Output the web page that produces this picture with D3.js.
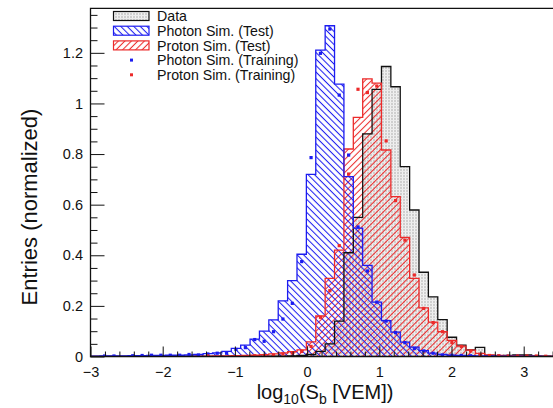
<!DOCTYPE html>
<html>
<head>
<meta charset="utf-8">
<script src="https://cdn.jsdelivr.net/npm/d3@7"></script>
<style>
  body { margin: 0; background: #fff; }
  svg { display: block; font-family: "Liberation Sans", Arial, Helvetica, sans-serif; }
</style>
</head>
<body>
<svg id="chart" width="553" height="408"></svg>
<script>
// Histogram binning: 50 bins of width 0.13 covering log10(Sb) in [-3, 3.5]
const binLow = -3;
const binWidth = 0.13;
const nBins = 50;

// Measured data (normalized entries per bin)
const dataEntries = [
  0, 0, 0, 0, 0, 0, 0, 0, 0, 0,
  0, 0, 0, 0, 0, 0, 0, 0, 0, 0.001,
  0.001, 0.002, 0.004, 0.008, 0.02, 0.05, 0.14, 0.41, 0.55, 0.88,
  1.056, 1.146, 1.066, 0.75, 0.579, 0.333, 0.236, 0.146, 0.076, 0.045,
  0.026, 0.036, 0.004, 0.003, 0.004, 0.006, 0.006, 0.001, 0.001, 0
];

// Photon simulation, test sample
const photonTest = [
  0.001, 0.002, 0.002, 0.002, 0.003, 0.003, 0.004, 0.004, 0.005, 0.005,
  0.006, 0.008, 0.011, 0.014, 0.02, 0.032, 0.045, 0.069, 0.1, 0.145,
  0.22, 0.3, 0.404, 0.72, 1.211, 1.307, 1.076, 0.711, 0.507, 0.36,
  0.215, 0.142, 0.096, 0.057, 0.037, 0.023, 0.013, 0.008, 0.005, 0.004,
  0.003, 0.002, 0.002, 0.001, 0.001, 0.001, 0.001, 0.001, 0.0005, 0.0005
];

// Proton simulation, test sample
const protonTest = [
  0, 0, 0, 0, 0, 0, 0, 0, 0, 0,
  0, 0.001, 0.001, 0.002, 0.002, 0.003, 0.004, 0.005, 0.007, 0.01,
  0.014, 0.019, 0.026, 0.058, 0.16, 0.309, 0.42, 0.82, 0.945, 1.097,
  1.08, 0.816, 0.632, 0.471, 0.309, 0.192, 0.136, 0.098, 0.064, 0.041,
  0.025, 0.012, 0.006, 0.004, 0.003, 0.003, 0.002, 0.002, 0.001, 0.001
];

// Photon simulation, training sample (null = empty bin)
const photonTrain = [
  null, 0.002, 0.002, null, 0.003, 0.004, 0.005, 0.005, 0.005, 0.005,
  0.008, 0.006, 0.01, 0.013, 0.013, 0.028, 0.035, 0.067, 0.06, 0.098,
  0.148, 0.21, 0.375, 0.786, 1.198, 1.294, 1.033, 0.796, 0.512, 0.338,
  0.215, 0.14, 0.095, 0.055, 0.032, 0.022, 0.013, 0.006, 0.005, 0.004,
  0.003, 0.003, 0.002, 0.002, 0.001, 0.001, null, null, null, null
];

// Proton simulation, training sample (null = empty bin)
const protonTrain = [
  null, null, null, null, null, null, null, null, null, null,
  null, null, 0.002, null, null, null, null, 0.003, 0.004, 0.006,
  0.01, 0.014, 0.02, 0.04, 0.155, 0.26, 0.438, 0.721, 1.056, 1.043,
  1.069, 0.852, 0.616, 0.46, 0.322, 0.19, 0.134, 0.098, 0.055, 0.04,
  0.022, 0.008, 0.004, 0.003, 0.002, 0.002, 0.002, 0.002, 0.001, 0.001
];

const xTickValues = [-3, -2, -1, 0, 1, 2, 3];
const yTickValues = [0, 0.2, 0.4, 0.6, 0.8, 1, 1.2];
const yTickLabels = ["0", "0.2", "0.4", "0.6", "0.8", "1", "1.2"];
const legendLabels = [
  "Data",
  "Photon Sim. (Test)",
  "Proton Sim. (Test)",
  "Photon Sim. (Training)",
  "Proton Sim. (Training)"
];

const colBlue = "#1c1cf0";
const colRed = "#ec2a2a";

const svg = d3.select("#chart");
const plotLeft = 90.5, plotRight = 553, plotTop = 8.3, plotBottom = 356.5;

const x = d3.scaleLinear().domain([-3, 3.5]).range([90.5, 559.8]);
const y = d3.scaleLinear().domain([0, 1.376]).range([plotBottom, plotTop]);

// ---- fill patterns ----
const defs = svg.append("defs");

function hatch(id, color, angle) {
  const p = defs.append("pattern")
    .attr("id", id)
    .attr("patternUnits", "userSpaceOnUse")
    .attr("width", 4.6).attr("height", 4.6)
    .attr("patternTransform", `rotate(${angle})`);
  p.append("line")
    .attr("x1", 2.3).attr("y1", 0).attr("x2", 2.3).attr("y2", 4.6)
    .attr("stroke", color).attr("stroke-width", 1.05);
}
hatch("hatchPhoton", colBlue, -45);
hatch("hatchProton", colRed, 45);

const grid = defs.append("pattern")
  .attr("id", "gridData")
  .attr("patternUnits", "userSpaceOnUse")
  .attr("width", 3).attr("height", 3);
grid.append("rect").attr("width", 3).attr("height", 3).attr("fill", "#cfcfcf");
grid.append("rect").attr("width", 1).attr("height", 3).attr("fill", "#f2f2f2");
grid.append("rect").attr("width", 3).attr("height", 1).attr("fill", "#ebebeb");

defs.append("clipPath").attr("id", "plotClip")
  .append("rect").attr("x", plotLeft).attr("y", plotTop)
  .attr("width", plotRight - plotLeft).attr("height", plotBottom - plotTop);

// ---- histogram helpers ----
const edge = k => binLow + k * binWidth;

function stepPoints(vals) {
  const pts = vals.map((v, k) => [edge(k), v]);
  pts.push([edge(nBins), vals[nBins - 1]]);
  return pts;
}

const area = d3.area()
  .curve(d3.curveStepAfter)
  .x(d => x(d[0])).y0(y(0)).y1(d => y(d[1]));

const stepLine = d3.line()
  .curve(d3.curveStepAfter)
  .x(d => x(d[0])).y(d => y(d[1]));

function outline(vals) {
  return stepLine([[edge(0), 0], ...stepPoints(vals), [edge(nBins), 0]]);
}

const plot = svg.append("g").attr("clip-path", "url(#plotClip)");

const series = [
  { vals: dataEntries, fill: "url(#gridData)", stroke: "#111" },
  { vals: protonTest, fill: "url(#hatchProton)", stroke: colRed },
  { vals: photonTest, fill: "url(#hatchPhoton)", stroke: colBlue }
];

series.forEach(s => {
  plot.append("path").attr("d", area(stepPoints(s.vals))).attr("fill", s.fill);
});
series.forEach(s => {
  plot.append("path").attr("d", outline(s.vals))
    .attr("fill", "none").attr("stroke", s.stroke).attr("stroke-width", 1.3);
});

// training samples as small squares at bin centres
function markers(vals, color) {
  const pts = vals.map((v, k) => ({ c: edge(k) + binWidth / 2, v })).filter(d => d.v !== null);
  plot.selectAll(null).data(pts).enter().append("rect")
    .attr("x", d => x(d.c) - 1.6).attr("y", d => y(d.v) - 1.6)
    .attr("width", 3.2).attr("height", 3.2)
    .attr("fill", color);
}
markers(photonTrain, colBlue);
markers(protonTrain, colRed);

// ---- axes ----
const xMinor = d3.range(-3, 3.5, 0.2).filter(v => Math.abs(v - Math.round(v)) > 1e-6);
const yMinor = d3.range(0, 1.376, 0.05).filter(v => Math.abs(v * 5 - Math.round(v * 5)) > 1e-6);

const axisStyle = g => {
  g.select(".domain").remove();
  g.selectAll("line").attr("stroke", "#111").attr("stroke-width", 1);
  g.selectAll("text").attr("fill", "#111").attr("font-size", 14.5)
    .attr("font-family", '"Liberation Sans", Arial, sans-serif');
};

svg.append("g").attr("transform", `translate(0,${plotBottom})`)
  .call(d3.axisBottom(x).tickValues(xMinor).tickSize(-5).tickFormat(""))
  .call(axisStyle);
svg.append("g").attr("transform", `translate(0,${plotBottom})`)
  .call(d3.axisBottom(x).tickValues(xTickValues).tickSize(-10).tickPadding(10)
    .tickFormat(d3.format("d")))
  .call(axisStyle);

svg.append("g").attr("transform", `translate(${plotLeft},0)`)
  .call(d3.axisLeft(y).tickValues(yMinor).tickSize(-7).tickFormat(""))
  .call(axisStyle);
svg.append("g").attr("transform", `translate(${plotLeft},0)`)
  .call(d3.axisLeft(y).tickValues(yTickValues).tickSize(-14).tickPadding(7.5)
    .tickFormat((d, i) => yTickLabels[i]))
  .call(axisStyle);

// frame: left, bottom, top
svg.append("path")
  .attr("d", `M${plotRight},${plotTop}H${plotLeft}V${plotBottom}H${plotRight}`)
  .attr("fill", "none").attr("stroke", "#111").attr("stroke-width", 1.3);

// ---- axis titles ----
const xt = svg.append("text")
  .attr("x", 325).attr("y", 399)
  .attr("text-anchor", "middle")
  .attr("font-size", 20).attr("fill", "#111");
xt.append("tspan").text("log");
xt.append("tspan").attr("font-size", 14).attr("dy", 5).text("10");
xt.append("tspan").attr("dy", -5).text("(S");
xt.append("tspan").attr("font-size", 14).attr("dy", 5).text("b");
xt.append("tspan").attr("dy", -5).text(" [VEM])");

svg.append("text")
  .attr("transform", "translate(37,207) rotate(-90)")
  .attr("text-anchor", "middle")
  .attr("font-size", 22).attr("fill", "#111")
  .text("Entries (normalized)");

// ---- legend ----
const leg = svg.append("g");
const rowY = i => 16 + 14.7 * i;
const boxStyles = [
  { fill: "url(#gridData)", stroke: "#111" },
  { fill: "url(#hatchPhoton)", stroke: colBlue },
  { fill: "url(#hatchProton)", stroke: colRed }
];
boxStyles.forEach((b, i) => {
  leg.append("rect")
    .attr("x", 113.5).attr("y", rowY(i) - 4.5)
    .attr("width", 35.5).attr("height", 9)
    .attr("fill", b.fill).attr("stroke", b.stroke).attr("stroke-width", 1.2);
});
[colBlue, colRed].forEach((c, j) => {
  leg.append("rect")
    .attr("x", 130).attr("y", rowY(3 + j) - 1.5)
    .attr("width", 3).attr("height", 3).attr("fill", c);
});
legendLabels.forEach((t, i) => {
  leg.append("text")
    .attr("x", 157).attr("y", rowY(i)).attr("dy", "0.36em")
    .attr("font-size", 14.2).attr("fill", "#111")
    .text(t);
});
</script>
</body>
</html>
